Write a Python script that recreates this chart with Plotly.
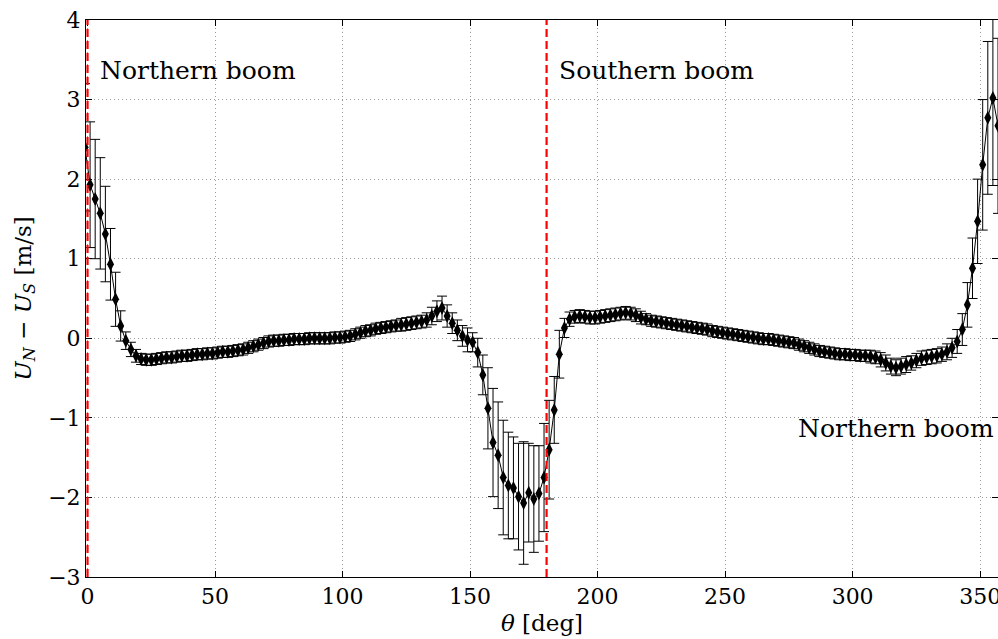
import plotly.graph_objects as go

theta = [-1, 1, 3, 5, 7, 9, 11, 13, 15, 17, 19, 21, 23, 25, 27, 29, 31, 33, 35, 37, 39,
         41, 43, 45, 47, 49, 51, 53, 55, 57, 59, 61, 63, 65, 67, 69, 71, 73, 75, 77, 79,
         81, 83, 85, 87, 89, 91, 93, 95, 97, 99, 101, 103, 105, 107, 109, 111, 113, 115, 117, 119,
         121, 123, 125, 127, 129, 131, 133, 135, 137, 139, 141, 143, 145, 147, 149, 151, 153, 155, 157, 159,
         161, 163, 165, 167, 169, 171, 173, 175, 177, 179, 181, 183, 185, 187, 189, 191, 193, 195, 197, 199,
         201, 203, 205, 207, 209, 211, 213, 215, 217, 219, 221, 223, 225, 227, 229, 231, 233, 235, 237, 239,
         241, 243, 245, 247, 249, 251, 253, 255, 257, 259, 261, 263, 265, 267, 269, 271, 273, 275, 277, 279,
         281, 283, 285, 287, 289, 291, 293, 295, 297, 299, 301, 303, 305, 307, 309, 311, 313, 315, 317, 319,
         321, 323, 325, 327, 329, 331, 333, 335, 337, 339, 341, 343, 345, 347, 349, 351, 353, 355, 357, 359]

du = [2.40, 1.93, 1.75, 1.57, 1.31, 0.93, 0.49, 0.155, -0.03, -0.14, -0.22,
      -0.26, -0.27, -0.27, -0.26, -0.25, -0.24, -0.24, -0.23, -0.22, -0.22,
      -0.21, -0.20, -0.20, -0.19, -0.19, -0.18, -0.17, -0.17, -0.16, -0.15,
      -0.14, -0.12, -0.10, -0.08, -0.06, -0.04, -0.03, -0.03, -0.02, -0.02,
      -0.01, -0.01, -0.01, 0.00, 0.00, 0.00, 0.00, 0.00, 0.01, 0.01,
      0.02, 0.03, 0.05, 0.07, 0.09, 0.10, 0.12, 0.13, 0.14, 0.15,
      0.16, 0.17, 0.18, 0.19, 0.20, 0.21, 0.23, 0.28, 0.34, 0.38,
      0.28, 0.19, 0.10, 0.03, -0.02, -0.05, -0.18, -0.46, -0.88, -1.31,
      -1.47, -1.75, -1.85, -1.88, -1.99, -2.07, -1.94, -2.02, -1.95, -1.75,
      -1.40, -0.90, -0.20, 0.13, 0.24, 0.27, 0.28, 0.27, 0.26, 0.26,
      0.27, 0.28, 0.29, 0.30, 0.31, 0.32, 0.31, 0.29, 0.26, 0.24,
      0.22, 0.21, 0.20, 0.19, 0.18, 0.17, 0.16, 0.15, 0.14, 0.13,
      0.12, 0.11, 0.09, 0.08, 0.07, 0.06, 0.05, 0.04, 0.03, 0.02,
      0.01, 0.00, -0.01, -0.01, -0.02, -0.03, -0.04, -0.05, -0.06, -0.08,
      -0.10, -0.12, -0.14, -0.16, -0.17, -0.18, -0.19, -0.20, -0.20, -0.21,
      -0.21, -0.22, -0.22, -0.23, -0.24, -0.27, -0.31, -0.35, -0.37, -0.35,
      -0.33, -0.31, -0.28, -0.25, -0.24, -0.23, -0.22, -0.20, -0.17, -0.12,
      -0.04, 0.11, 0.42, 0.88, 1.47, 2.18, 2.77, 3.02, 2.67, 2.40]

du_err = [0.80, 0.79, 0.75, 0.70, 0.60, 0.45, 0.34, 0.19, 0.11, 0.09, 0.08,
          0.07, 0.07, 0.07, 0.07, 0.07, 0.07, 0.07, 0.07, 0.07, 0.07,
          0.07, 0.07, 0.07, 0.07, 0.07, 0.07, 0.07, 0.07, 0.07, 0.07,
          0.07, 0.07, 0.07, 0.07, 0.07, 0.07, 0.07, 0.07, 0.07, 0.07,
          0.07, 0.07, 0.07, 0.07, 0.07, 0.07, 0.07, 0.07, 0.07, 0.07,
          0.07, 0.07, 0.07, 0.07, 0.07, 0.07, 0.07, 0.07, 0.07, 0.07,
          0.07, 0.08, 0.08, 0.08, 0.08, 0.08, 0.09, 0.11, 0.13, 0.15,
          0.14, 0.13, 0.13, 0.13, 0.15, 0.12, 0.18, 0.25, 0.51, 0.68,
          0.67, 0.72, 0.67, 0.64, 0.67, 0.77, 0.62, 0.67, 0.60, 0.68,
          0.62, 0.42, 0.30, 0.12, 0.09, 0.08, 0.08, 0.08, 0.08, 0.08,
          0.08, 0.08, 0.08, 0.08, 0.08, 0.08, 0.08, 0.08, 0.08, 0.07,
          0.07, 0.07, 0.07, 0.07, 0.07, 0.07, 0.07, 0.07, 0.07, 0.07,
          0.07, 0.07, 0.07, 0.07, 0.07, 0.07, 0.07, 0.07, 0.07, 0.07,
          0.07, 0.07, 0.07, 0.07, 0.07, 0.07, 0.07, 0.07, 0.07, 0.07,
          0.07, 0.07, 0.07, 0.07, 0.07, 0.07, 0.07, 0.07, 0.07, 0.07,
          0.07, 0.07, 0.07, 0.08, 0.08, 0.09, 0.10, 0.10, 0.10, 0.10,
          0.10, 0.09, 0.09, 0.09, 0.09, 0.09, 0.09, 0.09, 0.10, 0.12,
          0.15, 0.20, 0.28, 0.38, 0.53, 0.82, 0.96, 1.10, 1.10, 0.80]

boom_lines = [0, 180]
label_texts = ["Northern boom", "Southern boom", "Northern boom"]
label_x = [4.0, 184.2, 277.8]
label_y = [3.37, 3.37, -1.13]

x_ticks = [0, 50, 100, 150, 200, 250, 300, 350]
y_ticks = [-3, -2, -1, 0, 1, 2, 3, 4]

SERIF = "DejaVu Serif"

fig = go.Figure()
fig.add_trace(go.Scatter(
    x=theta, y=du,
    mode="lines+markers",
    line=dict(color="black", width=1),
    marker=dict(symbol="diamond-tall", size=10, color="black"),
    error_y=dict(type="data", array=du_err, visible=True,
                 color="black", thickness=1, width=5),
    showlegend=False,
))

for xb in boom_lines:
    fig.add_shape(type="line", xref="x", yref="paper", x0=xb, x1=xb, y0=0, y1=1,
                  line=dict(color="red", width=2.2, dash="8px,4px"), layer="above")

for t, lx, ly in zip(label_texts, label_x, label_y):
    fig.add_annotation(x=lx, y=ly, xref="x", yref="y", text=t, showarrow=False,
                       xanchor="left", yanchor="middle",
                       font=dict(family=SERIF, size=25, color="black"))

axis_common = dict(
    showline=True, linecolor="black", linewidth=1, mirror="ticks",
    ticks="inside", ticklen=6, tickcolor="black",
    showgrid=True, gridcolor="rgba(0,0,0,0.4)", griddash="1px,3px", gridwidth=1,
    zeroline=False,
    tickfont=dict(family=SERIF, size=22, color="black"),
    automargin=False,
    ticklabeloverflow="allow",
)

fig.update_xaxes(range=[-0.6, 357.0], tickvals=x_ticks, **axis_common,
                 title=dict(text="<i>θ</i> [deg]", font=dict(family=SERIF, size=23, color="black"),
                            standoff=6))
fig.update_yaxes(range=[-3, 4], tickvals=y_ticks, **axis_common,
                 title=dict(text="<i>U</i><sub><i>N</i></sub> − <i>U</i><sub><i>S</i></sub> [m/s]",
                            font=dict(family=SERIF, size=23, color="black"), standoff=10))

fig.update_layout(
    width=998, height=639,
    margin=dict(l=86, r=0, t=20, b=62),
    paper_bgcolor="white", plot_bgcolor="white",
)

fig.write_html("out.html")
